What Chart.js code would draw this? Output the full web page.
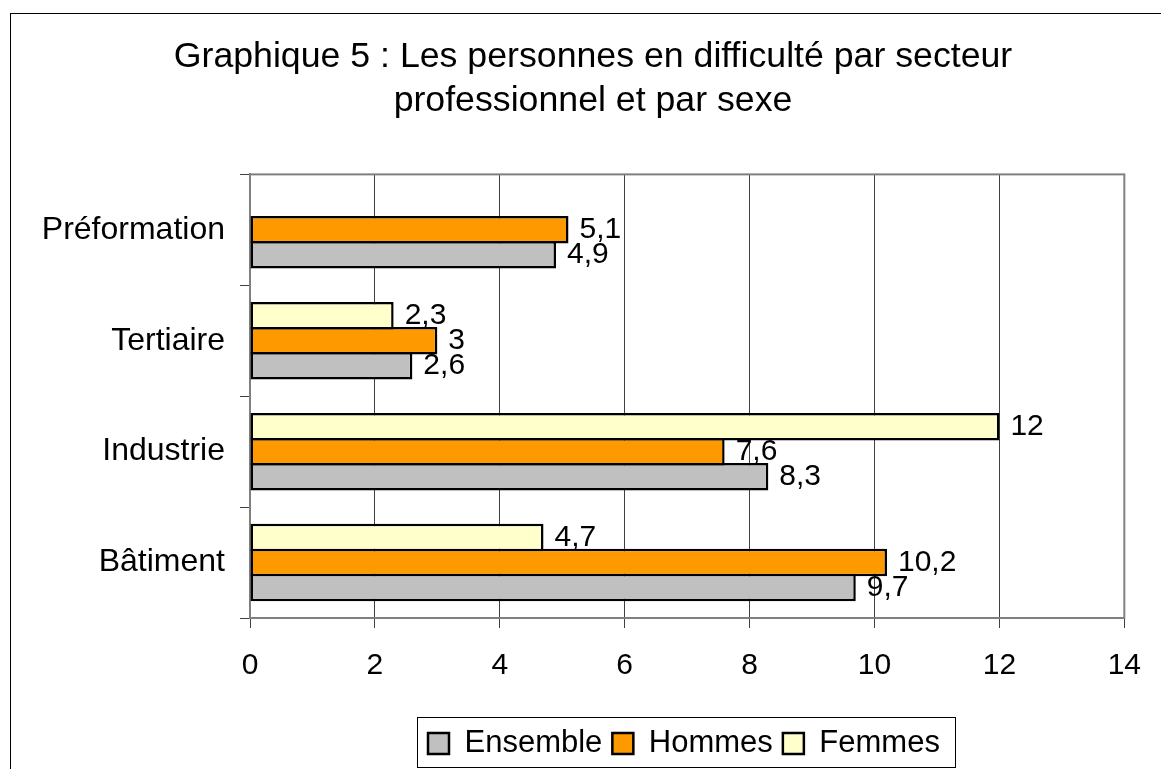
<!DOCTYPE html>
<html lang="fr">
<head>
<meta charset="utf-8">
<title>Graphique 5</title>
<script src="https://cdn.jsdelivr.net/npm/chart.js@4.4.1/dist/chart.umd.min.js"></script>
<style>
  html, body { margin: 0; padding: 0; background: #fff; overflow: hidden; }
  #wrap { position: relative; width: 1161px; height: 769px; }
</style>
</head>
<body>
<div id="wrap"><canvas id="myChart"></canvas></div>
<script>
// data
const categories = ['Préformation', 'Tertiaire', 'Industrie', 'Bâtiment'];
const femmes = [null, 2.3, 12, 4.7];
const hommes = [5.1, 3, 7.6, 10.2];
const ensemble = [4.9, 2.6, 8.3, 9.7];
const xMin = 0, xMax = 14, xStep = 2;
const titleLines = ['Graphique 5 : Les personnes en difficulté par secteur', 'professionnel et par sexe'];

const FONT = "'Liberation Sans', Arial, sans-serif";
Chart.defaults.font.family = FONT;
Chart.defaults.color = '#000';

function frenchNumber(v) {
  return String(v).replace('.', ',');
}

// outer frame + plot area border
const framePlugin = {
  id: 'frame',
  beforeDraw(chart) {
    const ctx = chart.ctx;
    ctx.save();
    ctx.strokeStyle = '#000';
    ctx.lineWidth = 1;
    ctx.strokeRect(10.5, 13.5, chart.width + 40, chart.height + 40);
    ctx.restore();
  },
  beforeDatasetsDraw(chart) {
    const a = chart.chartArea;
    const ctx = chart.ctx;
    ctx.save();
    ctx.strokeStyle = '#808080';
    ctx.lineWidth = 2;
    ctx.strokeRect(a.left, a.top, a.right - a.left, a.bottom - a.top);
    ctx.restore();
  }
};

// value labels at the end of each bar
const valueLabels = {
  id: 'valueLabels',
  afterDatasetsDraw(chart) {
    const ctx = chart.ctx;
    ctx.save();
    ctx.font = '30px ' + FONT;
    ctx.fillStyle = '#000';
    ctx.textAlign = 'left';
    ctx.textBaseline = 'middle';
    chart.data.datasets.forEach(function (ds, i) {
      const meta = chart.getDatasetMeta(i);
      meta.data.forEach(function (bar, j) {
        const v = ds.data[j];
        if (v === null || v === undefined) return;
        ctx.fillText(frenchNumber(v), bar.x + 11, bar.y);
      });
    });
    ctx.restore();
  }
};

// title centred on the whole frame, legend moved under the plot with its box
const placeBlocks = {
  id: 'placeBlocks',
  afterLayout(chart) {
    chart.titleBlock.left = 60;
    chart.titleBlock.right = 1126;
    const lg = chart.legend;
    lg.left = 418;
    lg.right = chart.width;
  },
  afterDraw(chart) {
    const lg = chart.legend;
    const pad = lg.options.labels.padding;
    const x0 = lg.left + pad - 11;
    const x1 = lg.left + lg.lineWidths[0] + 15;
    const y0 = lg.top - 1;
    const ctx = chart.ctx;
    ctx.save();
    ctx.strokeStyle = '#000';
    ctx.lineWidth = 1;
    ctx.strokeRect(Math.round(x0) + 0.5, Math.round(y0) + 0.5, Math.round(x1 - x0), 50);
    ctx.restore();
  }
};

const ctx = document.getElementById('myChart');

const chart = new Chart(ctx, {
  type: 'bar',
  data: {
    labels: categories,
    datasets: [
      { label: 'Femmes', data: femmes, backgroundColor: '#FFFFCC' },
      { label: 'Hommes', data: hommes, backgroundColor: '#FF9900' },
      { label: 'Ensemble', data: ensemble, backgroundColor: '#C0C0C0' }
    ]
  },
  options: {
    indexAxis: 'y',
    responsive: true,
    maintainAspectRatio: false,
    animation: false,
    layout: { padding: { top: 0, left: 10, right: 29, bottom: 0 } },
    datasets: {
      bar: {
        borderColor: '#000',
        borderWidth: 2.5,
        borderSkipped: false,
        barPercentage: 1.1,
        categoryPercentage: 0.676
      }
    },
    scales: {
      x: {
        min: xMin,
        max: xMax,
        ticks: {
          stepSize: xStep,
          padding: 20,
          color: '#000',
          font: { size: 30 }
        },
        grid: {
          color: function (c) {
            return (c.tick && (c.tick.value === xMin || c.tick.value === xMax)) ? 'rgba(0,0,0,0)' : '#404040';
          },
          lineWidth: 1,
          tickLength: 10,
          tickColor: '#404040'
        },
        border: { display: true, color: '#808080', width: 2 },
        afterFit: function (scale) { scale.height = 100; }
      },
      y: {
        ticks: {
          padding: 15,
          color: '#000',
          font: { size: 32 }
        },
        grid: {
          drawOnChartArea: false,
          tickLength: 10,
          tickColor: '#404040'
        },
        border: { display: true, color: '#808080', width: 2 },
        afterFit: function (scale) { scale.width = 240; }
      }
    },
    plugins: {
      title: {
        display: true,
        text: titleLines,
        color: '#000',
        font: { size: 35.7, weight: 'normal', lineHeight: 1.21 },
        padding: { top: 36, bottom: 52 }
      },
      legend: {
        position: 'bottom',
        align: 'start',
        reverse: true,
        labels: {
          boxWidth: 21,
          boxHeight: 21,
          padding: 10,
          color: '#000',
          font: { size: 31 }
        }
      },
      tooltip: { enabled: false }
    }
  },
  plugins: [framePlugin, valueLabels, placeBlocks]
});
</script>
</body>
</html>
